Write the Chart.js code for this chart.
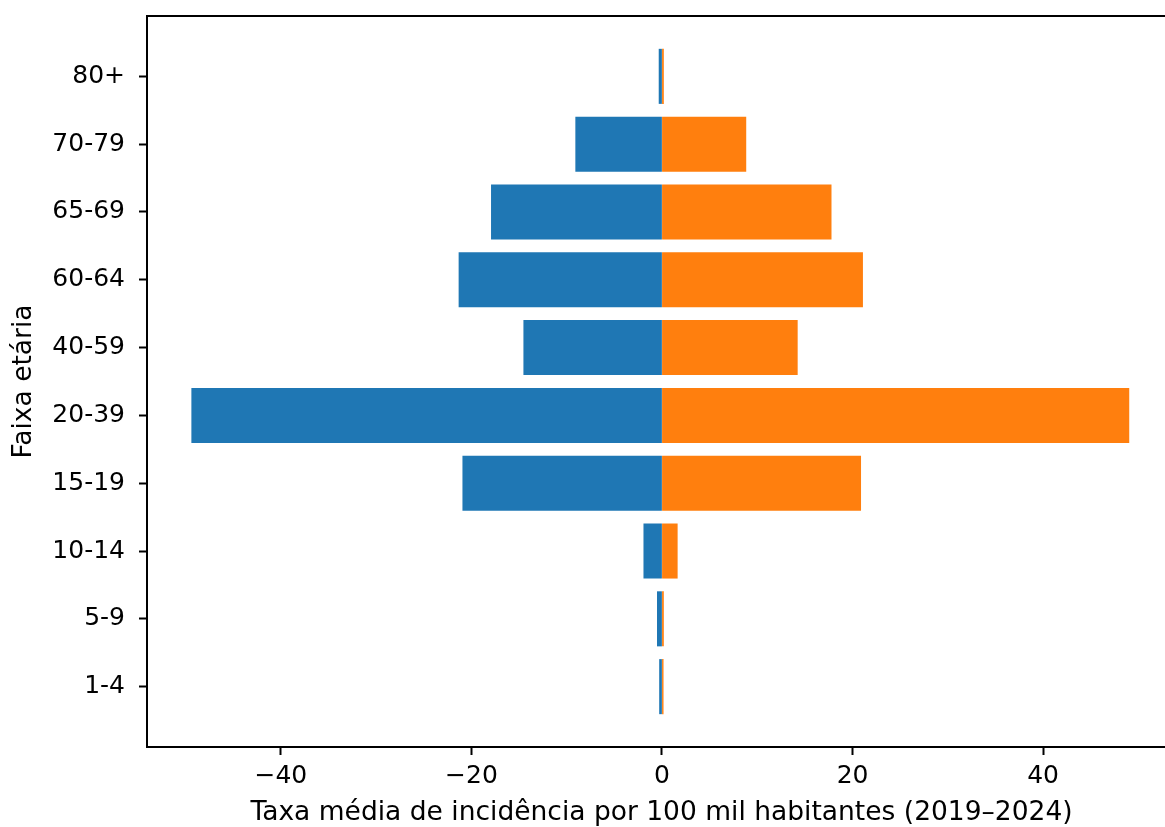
<!DOCTYPE html>
<html>
<head>
<meta charset="utf-8">
<script src="https://cdn.jsdelivr.net/npm/chart.js@4/dist/chart.umd.min.js"></script>
<style>
  html, body { margin: 0; padding: 0; background: #fff; overflow: hidden; }
  canvas { display: block; }
</style>
</head>
<body>
<canvas id="chart" width="1180" height="827"></canvas>
<script>
// Age groups, listed from the bottom row upwards
const ageGroups = ['1-4', '5-9', '10-14', '15-19', '20-39', '40-59', '60-64', '65-69', '70-79', '80+'];
// Mean incidence per 100k inhabitants, left side drawn as negative values
const leftValues  = [-0.25, -0.48, -1.9, -20.9, -49.35, -14.5, -21.3, -17.9, -9.05, -0.3];
const rightValues = [0.12, 0.15, 1.6, 20.85, 49.0, 14.2, 21.05, 17.75, 8.8, 0.15];
// Positions of the x-axis ticks
const xTicks = [-40, -20, 0, 20, 40];

const TICK_FONT = { family: "'DejaVu Sans', sans-serif", size: 25 };
const TITLE_FONT = { family: "'DejaVu Sans', sans-serif", size: 26.5 };
const INK = '#000000';

const toPoints = (vals) => vals.map((v, i) => ({ x: v, y: i }));

// Closes the axes box on the top and right sides
const frame = {
  id: 'frame',
  afterDraw(chart) {
    const { ctx, chartArea: a } = chart;
    ctx.save();
    ctx.strokeStyle = INK;
    ctx.lineWidth = 2;
    ctx.beginPath();
    ctx.moveTo(a.left - 1, a.top);
    ctx.lineTo(a.right, a.top);
    ctx.lineTo(a.right, a.bottom);
    ctx.stroke();
    ctx.restore();
  }
};

new Chart(document.getElementById('chart'), {
  type: 'bar',
  data: {
    datasets: [
      { label: 'Esquerda', data: toPoints(leftValues), backgroundColor: '#1f77b4', stack: 'p' },
      { label: 'Direita', data: toPoints(rightValues), backgroundColor: '#ff7f0e', stack: 'p' }
    ]
  },
  options: {
    indexAxis: 'y',
    responsive: false,
    animation: false,
    devicePixelRatio: 1,
    layout: { padding: { top: 16, right: 4, left: 0, bottom: 0 } },
    datasets: { bar: { barPercentage: 0.8, categoryPercentage: 1, borderWidth: 0, inflateAmount: 0.4 } },
    plugins: { legend: { display: false }, tooltip: { enabled: false } },
    scales: {
      x: {
        type: 'linear',
        stacked: true,
        offset: false,
        min: -54.05,
        max: 53.95,
        afterBuildTicks: (s) => { s.ticks = xTicks.map(v => ({ value: v })); },
        afterFit: (s) => { s.height = 80; s.paddingLeft = 0; s.paddingRight = 0; },
        border: { display: true, color: INK, width: 2 },
        grid: { display: true, offset: false, drawOnChartArea: false, drawTicks: true, tickLength: 8, tickWidth: 2, tickColor: INK },
        ticks: {
          color: INK, font: TICK_FONT, padding: 6, maxRotation: 0,
          callback: (v) => (v < 0 ? '\u2212' + Math.abs(v) : String(v))
        },
        title: {
          display: true,
          text: 'Taxa média de incidência por 100 mil habitantes (2019–2024)',
          color: INK, font: TITLE_FONT, padding: { top: 0, bottom: -2 }
        }
      },
      y: {
        type: 'linear',
        stacked: true,
        offset: false,
        min: -0.89,
        max: 9.89,
        afterBuildTicks: (s) => { s.ticks = ageGroups.map((_, i) => ({ value: i })); },
        afterFit: (s) => { s.width = 147; s.paddingTop = 0; s.paddingBottom = 0; },
        border: { display: true, color: INK, width: 2 },
        grid: { display: true, offset: false, drawOnChartArea: false, drawTicks: true, tickLength: 8, tickWidth: 2, tickColor: INK },
        ticks: {
          color: INK, font: TICK_FONT, padding: 14,
          callback: (v) => ageGroups[v]
        },
        title: {
          display: true,
          text: 'Faixa etária',
          color: INK, font: TITLE_FONT, padding: { top: 8, bottom: 0 }
        }
      }
    }
  },
  plugins: [frame]
});
</script>
</body>
</html>
